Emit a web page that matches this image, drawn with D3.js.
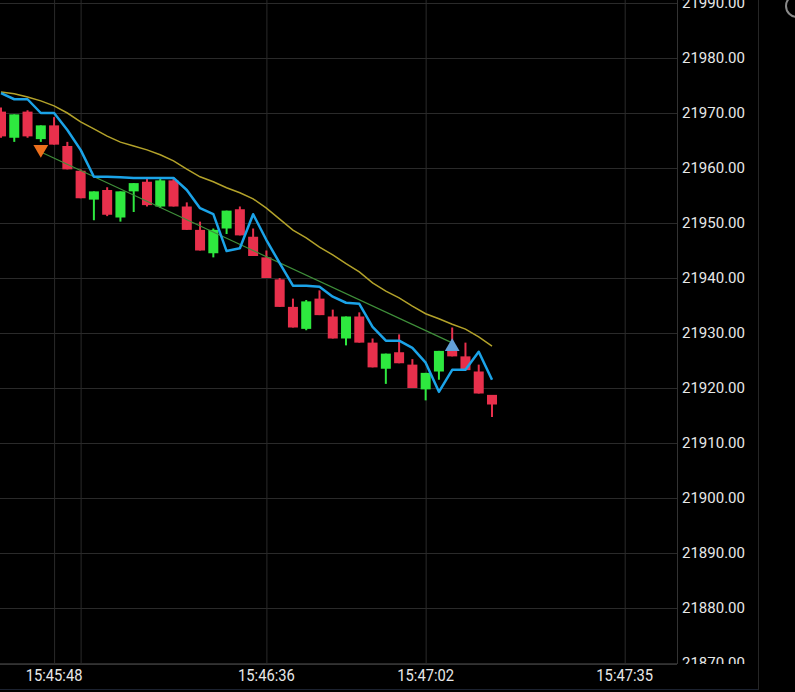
<!DOCTYPE html>
<html lang="en">
<head>
<meta charset="utf-8">
<title>Tick chart</title>
<script src="https://cdn.jsdelivr.net/npm/d3@7"></script>
<style>
  html, body { margin: 0; padding: 0; background: #000; }
  svg { display: block; }
</style>
</head>
<body>
<script>
// candles, index based tick chart
var opens  = [21970.25, 21965.5, 21970.25, 21965.25, 21967.75, 21964, 21959.5, 21954.25, 21956, 21951,
              21955.75, 21957.5, 21953, 21957.75, 21953, 21948.75, 21944.5, 21949, 21952.5, 21947.5,
              21943.75, 21939.75, 21934.75, 21930.75, 21936.25, 21933, 21929, 21933, 21928.25, 21923.5,
              21926.5, 21924.25, 21919.75, 21923, 21927.25, 21925.75, 21923, 21918.75];
var highs  = [21971, 21969.75, 21970.5, 21967.75, 21969.25, 21964.75, 21959.75, 21955.75, 21956.5, 21955.75,
              21957.25, 21958.25, 21958, 21958.25, 21953.75, 21950.25, 21949, 21952.25, 21953, 21949,
              21945, 21940, 21936.25, 21936, 21937.75, 21934.25, 21933, 21933.75, 21929, 21926.25,
              21929.75, 21925.25, 21922.75, 21926.75, 21931, 21928.25, 21924.25, 21918.75];
var lows   = [21965.5, 21964.75, 21965.5, 21964.75, 21964.25, 21959.75, 21954.5, 21950.5, 21951.25, 21950.25,
              21952, 21953, 21952.75, 21953, 21948.75, 21945, 21943.75, 21948, 21947.75, 21944,
              21940, 21934.75, 21931, 21930.5, 21933.25, 21929, 21927.75, 21928.25, 21923.75, 21920.75,
              21924.5, 21920, 21917.75, 21921.5, 21925.75, 21923.25, 21919, 21914.75];
var closes = [21965.75, 21969.75, 21965.75, 21967.75, 21964.25, 21959.75, 21954.5, 21955.75, 21951.5, 21955.75,
              21957.25, 21953.25, 21957.75, 21953, 21948.75, 21945, 21948.75, 21952.25, 21947.75, 21944,
              21940, 21934.75, 21931, 21935.75, 21933.25, 21929, 21933, 21928.25, 21923.75, 21926.25,
              21924.5, 21920, 21922.75, 21926.75, 21925.75, 21923.25, 21919, 21917];

// fast line (blue) and slow average (yellow)
var fastLine = [21973.6, 21972.5, 21972.5, 21970, 21970, 21966.9, 21963.3, 21958.4, 21958.4, 21958.3,
                21958.2, 21958.2, 21958.2, 21958.2, 21956, 21952.7, 21951.6, 21944.9, 21945.4, 21951.6,
                21946.9, 21942.7, 21938.6, 21938.6, 21938.4, 21936.6, 21935.5, 21935.3, 21931.1, 21928.6,
                21928.6, 21927.3, 21924.6, 21919.3, 21923.3, 21923.3, 21926.6, 21921.5];
var slowLine = [21973.8, 21973.5, 21972.9, 21972.2, 21971.3, 21970, 21968.4, 21967.1, 21965.8, 21964.7,
                21964, 21963.3, 21962.4, 21961.3, 21959.8, 21958.4, 21957.5, 21956.4, 21955.5, 21954.4,
                21952.7, 21950.7, 21948.7, 21947.3, 21945.6, 21944.2, 21942.6, 21941.1, 21939.1, 21937.6,
                21936.4, 21934.9, 21933.5, 21932.6, 21931.6, 21930.7, 21929.3, 21927.6];

// signals
var sellIndex = [3],  sellPrice = [21963.4];
var buyIndex  = [34], buyPrice  = [21927.5];
var trendIndex = [3, 34];
var trendPrice = [21962.9, 21928.2];

// axes
var yTicks = [21870, 21880, 21890, 21900, 21910, 21920, 21930, 21940, 21950, 21960, 21970, 21980, 21990];
var xTickIndex = [4, 6, 20, 32, 47];
var xTickLabel = ["15:45:48", "", "15:46:36", "15:47:02", "15:47:35"];

var w = 795, h = 692;
var plotW = 677, plotH = 664;

var svg = d3.select("body").append("svg")
            .attr("width", w)
            .attr("height", h)
            .style("background", "#000");

var xScale = d3.scaleLinear().domain([0, 37]).range([1, 492]);
var yScale = d3.scaleLinear().domain([21870, 21990]).range([663, 3]);

svg.append("clipPath").attr("id", "plot")
   .append("rect").attr("x", 0).attr("y", 0).attr("width", plotW).attr("height", plotH);
svg.append("clipPath").attr("id", "yax")
   .append("rect").attr("x", plotW).attr("y", 0).attr("width", 90).attr("height", plotH);

var plot = svg.append("g").attr("clip-path", "url(#plot)");

// grid
plot.append("g")
    .attr("class", "grid")
    .call(d3.axisLeft(yScale).tickValues(yTicks).tickSize(-plotW).tickFormat(""))
    .call(function(g) { g.select(".domain").remove(); })
    .selectAll("line").attr("stroke", "#2a2a2a").attr("stroke-width", 1);
plot.append("g")
    .attr("class", "grid")
    .call(d3.axisTop(xScale).tickValues(xTickIndex).tickSize(-plotH).tickFormat(""))
    .call(function(g) { g.select(".domain").remove(); })
    .selectAll("line").attr("stroke", "#2a2a2a").attr("stroke-width", 1);

// frame lines
svg.append("line").attr("x1", 0).attr("x2", plotW).attr("y1", plotH + 0.5).attr("y2", plotH + 0.5)
   .attr("stroke", "#333");
svg.append("line").attr("x1", plotW + 0.5).attr("x2", plotW + 0.5).attr("y1", 0).attr("y2", plotH)
   .attr("stroke", "#333");
svg.append("line").attr("x1", 758.5).attr("x2", 758.5).attr("y1", 0).attr("y2", 690)
   .attr("stroke", "#262626");
svg.append("line").attr("x1", 0).attr("x2", 758).attr("y1", 689.5).attr("y2", 689.5)
   .attr("stroke", "#1c2230");

var idx = d3.range(opens.length);

// slow average
var line = d3.line()
             .x(function(d) { return xScale(d[0]); })
             .y(function(d) { return yScale(d[1]); });
plot.append("path")
    .datum(idx.map(function(i) { return [i, slowLine[i]]; }))
    .attr("d", line)
    .attr("fill", "none")
    .attr("stroke", "#b3a22a")
    .attr("stroke-width", 1.5);

// candles
var bodyW = 10;
var candles = plot.selectAll("g.candle")
                  .data(idx)
                  .enter()
                  .append("g")
                  .attr("class", "candle");
candles.append("line")
       .attr("x1", function(i) { return xScale(i); })
       .attr("x2", function(i) { return xScale(i); })
       .attr("y1", function(i) { return yScale(highs[i]); })
       .attr("y2", function(i) { return yScale(lows[i]); })
       .attr("stroke", function(i) { return closes[i] >= opens[i] ? "#2ee83f" : "#e8304c"; })
       .attr("stroke-width", 2);
candles.append("rect")
       .attr("x", function(i) { return xScale(i) - bodyW / 2; })
       .attr("y", function(i) { return yScale(Math.max(opens[i], closes[i])); })
       .attr("width", bodyW)
       .attr("height", function(i) {
           return Math.max(1, yScale(Math.min(opens[i], closes[i])) - yScale(Math.max(opens[i], closes[i])));
       })
       .attr("fill", function(i) { return closes[i] >= opens[i] ? "#2ee83f" : "#e8304c"; });

// trend line between signals
plot.append("path")
    .datum(trendIndex.map(function(d, k) { return [d, trendPrice[k]]; }))
    .attr("d", line)
    .attr("fill", "none")
    .attr("stroke", "#3f8f3a")
    .attr("stroke-width", 1.2);

// fast line
plot.append("path")
    .datum(idx.map(function(i) { return [i, fastLine[i]]; }))
    .attr("d", line)
    .attr("fill", "none")
    .attr("stroke", "#1ba3e8")
    .attr("stroke-width", 2.5)
    .attr("stroke-linejoin", "round");

// signal markers
var tri = d3.symbol().type(d3.symbolTriangle).size(95);
plot.selectAll("path.sell")
    .data(sellIndex)
    .enter()
    .append("path")
    .attr("class", "sell")
    .attr("d", tri)
    .attr("transform", function(d, k) {
        return "translate(" + xScale(d) + "," + yScale(sellPrice[k]) + ") rotate(180)";
    })
    .attr("fill", "#ec6f1c");
plot.selectAll("path.buy")
    .data(buyIndex)
    .enter()
    .append("path")
    .attr("class", "buy")
    .attr("d", tri)
    .attr("transform", function(d, k) {
        return "translate(" + xScale(d) + "," + yScale(buyPrice[k]) + ")";
    })
    .attr("fill", "#62a0d8");

// price axis
var yAxis = svg.append("g")
               .attr("clip-path", "url(#yax)")
               .append("g")
               .attr("transform", "translate(" + (plotW + 5) + ",0)")
               .call(d3.axisRight(yScale).tickValues(yTicks).tickSize(0).tickPadding(0).tickFormat(d3.format(".2f")));
yAxis.select(".domain").remove();
yAxis.selectAll("text")
     .attr("fill", "#e8e8e8")
     .attr("font-family", "Roboto, sans-serif")
     .attr("font-size", "15px");

// time labels (slightly condensed, like the reference)
svg.selectAll("text.time")
   .data(xTickIndex)
   .enter()
   .append("text")
   .attr("class", "time")
   .text(function(d, k) { return xTickLabel[k]; })
   .attr("transform", function(d) { return "translate(" + xScale(d) + ",681) scale(0.92,1)"; })
   .attr("text-anchor", "middle")
   .attr("fill", "#e8e8e8")
   .attr("font-family", "Roboto, sans-serif")
   .attr("font-size", "16px");

// corner button
svg.append("circle")
   .attr("cx", 797).attr("cy", 6).attr("r", 11)
   .attr("fill", "none")
   .attr("stroke", "#8a8a8a")
   .attr("stroke-width", 2);
</script>
</body>
</html>
